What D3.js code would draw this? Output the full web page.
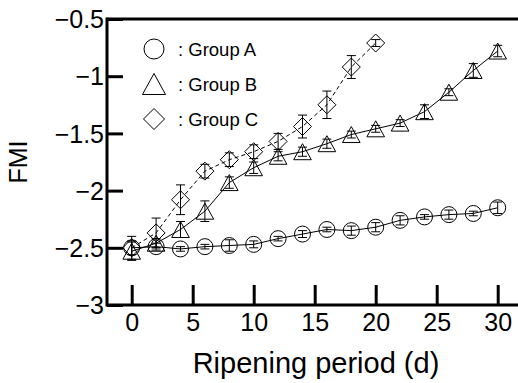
<!DOCTYPE html>
<html>
<head>
<meta charset="utf-8">
<script src="https://cdn.jsdelivr.net/npm/d3@7"></script>
<style>
  body { margin: 0; background: #fff; }
  svg { font-family: "Liberation Sans", Arial, sans-serif; }
</style>
</head>
<body>
<svg width="518" height="383"></svg>
<script>
// ripening days
var days = [0, 2, 4, 6, 8, 10, 12, 14, 16, 18, 20, 22, 24, 26, 28, 30];
var daysC = [0, 2, 4, 6, 8, 10, 12, 14, 16, 18, 20];

var groupA = [-2.50, -2.49, -2.51, -2.49, -2.48, -2.47, -2.42, -2.38, -2.34, -2.35, -2.32, -2.26, -2.23, -2.21, -2.20, -2.15];
var errA = [0.06, 0.03, 0.02, 0.02, 0.05, 0.03, 0.02, 0.03, 0.02, 0.04, 0.04, 0.04, 0.02, 0.04, 0.02, 0.05];
var groupB = [-2.53, -2.46, -2.34, -2.18, -1.93, -1.80, -1.70, -1.66, -1.59, -1.51, -1.46, -1.41, -1.31, -1.14, -0.95, -0.78];
var errB = [0.08, 0.04, 0.07, 0.09, 0.05, 0.05, 0.04, 0.04, 0.04, 0.03, 0.03, 0.03, 0.06, 0.03, 0.06, 0.05];
var groupC = [-2.50, -2.37, -2.08, -1.83, -1.73, -1.66, -1.57, -1.44, -1.25, -0.92, -0.71];
var errC = [0.10, 0.13, 0.13, 0.06, 0.06, 0.06, 0.07, 0.10, 0.12, 0.10, 0.03];

var xTicks = [0, 5, 10, 15, 20, 25, 30];
var yTicks = [-3, -2.5, -2, -1.5, -1, -0.5];
var legendLabels = [": Group A", ": Group B", ": Group C"];

var svg = d3.select('svg');
var frame = { left: 107, right: 518, top: 19, bottom: 305 };

var xScale = d3.scaleLinear().domain([0, 30]).range([131.7, 497.7]);
var yScale = d3.scaleLinear().domain([-3, -0.5]).range([305, 19]);

// axes, ticks pointing inward
var xAxis = d3.axisBottom(xScale).tickValues(xTicks).tickSize(-20).tickPadding(8).tickFormat(d3.format(''));
svg.append('g').classed('xAxis', true)
   .attr('transform', 'translate(0,' + frame.bottom + ')')
   .call(xAxis);

var yAxis = d3.axisLeft(yScale).tickValues(yTicks).tickSize(-16).tickPadding(3).tickFormat(d3.format(''));
svg.append('g').classed('yAxis', true)
   .attr('transform', 'translate(' + frame.left + ',0)')
   .call(yAxis);

svg.selectAll('.domain').remove();
svg.selectAll('.tick line').attr('stroke', '#000').attr('stroke-width', 3);
svg.selectAll('.tick text').attr('fill', '#000').style('font-size', '25px');
svg.selectAll('.yAxis .tick text').attr('dy', '0.35em');

// frame lines
var frameLines = [
  [frame.left, frame.top, frame.right, frame.top],
  [frame.left, frame.top - 1.5, frame.left, frame.bottom + 1.5],
  [frame.left, frame.bottom, frame.right, frame.bottom]
];
svg.selectAll('.frame').data(frameLines).enter().append('line')
   .attr('x1', function(d){ return d[0]; })
   .attr('y1', function(d){ return d[1]; })
   .attr('x2', function(d){ return d[2]; })
   .attr('y2', function(d){ return d[3]; })
   .attr('stroke', '#000').attr('stroke-width', 3);

// axis titles
svg.append('text').attr('x', 316).attr('y', 373).attr('text-anchor', 'middle')
   .style('font-size', '29px').text('Ripening period (d)');
svg.append('text').attr('transform', 'translate(27,162) rotate(-90)').attr('text-anchor', 'middle')
   .style('font-size', '25px').text('FMI');

// marker shapes
var markerPath = function(type, s) {
  if (type == 'circle') {
    return d3.symbol().type(d3.symbolCircle).size(Math.PI * s * s)();
  }
  if (type == 'triangle') {
    return 'M0,' + (-s) + 'L' + (s * 1.1) + ',' + s + 'L' + (-s * 1.1) + ',' + s + 'Z';
  }
  return 'M0,' + (-s) + 'L' + s + ',0L0,' + s + 'L' + (-s) + ',0Z';
};

var drawSeries = function(xs, ys, errs, type, size, dash) {
  var pts = xs.map(function(x, i){ return { x: x, y: ys[i], e: errs[i] }; });
  var g = svg.append('g');

  var line = d3.line().x(function(d){ return xScale(d.x); }).y(function(d){ return yScale(d.y); });
  g.append('path').datum(pts).attr('d', line)
   .attr('fill', 'none').attr('stroke', '#000').attr('stroke-width', 1)
   .attr('stroke-dasharray', dash);

  var eb = g.selectAll('.eb').data(pts).enter().append('g');
  eb.append('line')
    .attr('x1', function(d){ return xScale(d.x); }).attr('x2', function(d){ return xScale(d.x); })
    .attr('y1', function(d){ return yScale(d.y - d.e); }).attr('y2', function(d){ return yScale(d.y + d.e); })
    .attr('stroke', '#000').attr('stroke-width', 1);
  [1, -1].forEach(function(sgn){
    eb.append('line')
      .attr('x1', function(d){ return xScale(d.x) - 4.5; }).attr('x2', function(d){ return xScale(d.x) + 4.5; })
      .attr('y1', function(d){ return yScale(d.y + sgn * d.e); }).attr('y2', function(d){ return yScale(d.y + sgn * d.e); })
      .attr('stroke', '#000').attr('stroke-width', 1);
  });

  g.selectAll('.mk').data(pts).enter().append('path')
   .attr('d', markerPath(type, size))
   .attr('transform', function(d){ return 'translate(' + xScale(d.x) + ',' + yScale(d.y) + ')'; })
   .attr('fill', 'none').attr('stroke', '#000').attr('stroke-width', 1);
};

drawSeries(days, groupA, errA, 'circle', 8, null);
drawSeries(days, groupB, errB, 'triangle', 8, null);
drawSeries(daysC, groupC, errC, 'diamond', 9, '4,3');

// legend
var legendTypes = ['circle', 'triangle', 'diamond'];
var legend = svg.append('g');
legendTypes.forEach(function(t, i) {
  var cy = 49 + i * 35;
  legend.append('path').attr('d', markerPath(t, t == 'circle' ? 10 : 10.5))
        .attr('transform', 'translate(154,' + cy + ')')
        .attr('fill', 'none').attr('stroke', '#000').attr('stroke-width', 1);
  legend.append('text').attr('x', 178).attr('y', cy + 7)
        .style('font-size', '18.5px').text(legendLabels[i]);
});
</script>
</body>
</html>
